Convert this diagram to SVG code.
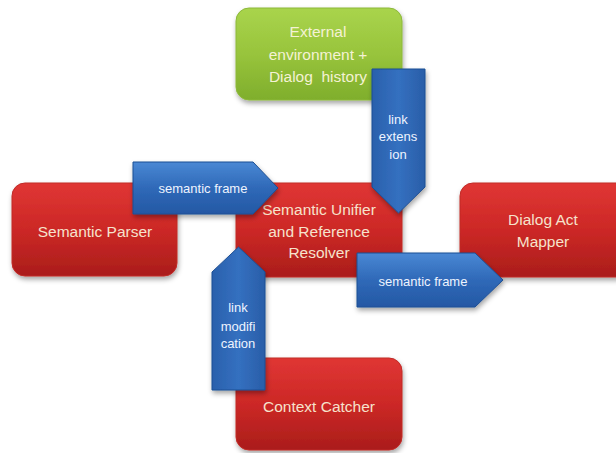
<svg xmlns="http://www.w3.org/2000/svg" width="616" height="453" viewBox="0 0 616 453">
<defs>
<linearGradient id="red" x1="0" y1="0" x2="0" y2="1"><stop offset="0" stop-color="#e03634"/><stop offset="0.5" stop-color="#cc2826"/><stop offset="1" stop-color="#aa1d1b"/></linearGradient>
<linearGradient id="green" x1="0" y1="0" x2="0" y2="1"><stop offset="0" stop-color="#a9d44c"/><stop offset="0.5" stop-color="#98c43c"/><stop offset="1" stop-color="#7fae2c"/></linearGradient>
<linearGradient id="blueH" x1="0" y1="0" x2="0" y2="1"><stop offset="0" stop-color="#4a88d4"/><stop offset="0.5" stop-color="#2f69b8"/><stop offset="1" stop-color="#2458a4"/></linearGradient>
<linearGradient id="blueV" x1="0" y1="0" x2="1" y2="0"><stop offset="0" stop-color="#2a60ac"/><stop offset="0.5" stop-color="#3470c0"/><stop offset="1" stop-color="#2a5ea8"/></linearGradient>
<filter id="sh" x="-10%" y="-10%" width="125%" height="130%"><feDropShadow dx="1" dy="3" stdDeviation="2.5" flood-color="#000" flood-opacity="0.35"/></filter>
</defs>
<style>
.box{stroke:#c02a26;stroke-width:1;filter:url(#sh)}
.r{fill:url(#red)}
.g{fill:url(#green);stroke:#8cb83a}
.t{font-family:"Liberation Sans",Arial,sans-serif;font-size:15.5px;fill:#f6e2cc;text-anchor:middle}
.tg{fill:#f4f2d4}
.ar{stroke:#1d4f94;stroke-width:1;filter:url(#sh)}
.at{font-family:"Liberation Sans",Arial,sans-serif;font-size:13px;fill:#eef4ff;text-anchor:middle}
</style>
<g id="external">
<rect class="box g" x="236" y="8" width="166" height="92" rx="13"/>
<text class="t tg" x="318" y="37">External</text>
<text class="t tg" x="318" y="60">environment +</text>
<text class="t tg" x="318" y="82">Dialog&#160; history</text>
</g>
<g id="parser">
<rect class="box r" x="12" y="183" width="165" height="93" rx="13"/>
<text class="t" x="95" y="237">Semantic Parser</text>
</g>
<g id="unifier">
<rect class="box r" x="236" y="183" width="166" height="94" rx="13"/>
<text class="t" x="319" y="215">Semantic Unifier</text>
<text class="t" x="319" y="237">and Reference</text>
<text class="t" x="319" y="258">Resolver</text>
</g>
<g id="mapper">
<rect class="box r" x="460" y="183" width="170" height="94" rx="13"/>
<text class="t" x="543" y="225">Dialog Act</text>
<text class="t" x="543" y="247">Mapper</text>
</g>
<g id="catcher">
<rect class="box r" x="236" y="358" width="166" height="92" rx="13"/>
<text class="t" x="319" y="412">Context Catcher</text>
</g>
<g id="connectors">
<g id="c1">
<path class="ar" fill="url(#blueH)" d="M133,162 H253 L278,188 L253,214 H133 Z"/>
<text class="at" x="203" y="193">semantic frame</text>
</g>
<g id="c2">
<path class="ar" fill="url(#blueV)" d="M372,69 H425 V187 L398.5,213 L372,187 Z"/>
<text class="at" x="398" y="124">link</text>
<text class="at" x="398" y="141">extens</text>
<text class="at" x="398" y="159">ion</text>
</g>
<g id="c3">
<path class="ar" fill="url(#blueV)" d="M212,272 L238.5,247 L265,272 V390 H212 Z"/>
<text class="at" x="238" y="312">link</text>
<text class="at" x="238" y="331">modifi</text>
<text class="at" x="238" y="348">cation</text>
</g>
<g id="c4">
<path class="ar" fill="url(#blueH)" d="M357,253 H475 L503,280 L475,307 H357 Z"/>
<text class="at" x="423" y="286">semantic frame</text>
</g>
</g>
</svg>
